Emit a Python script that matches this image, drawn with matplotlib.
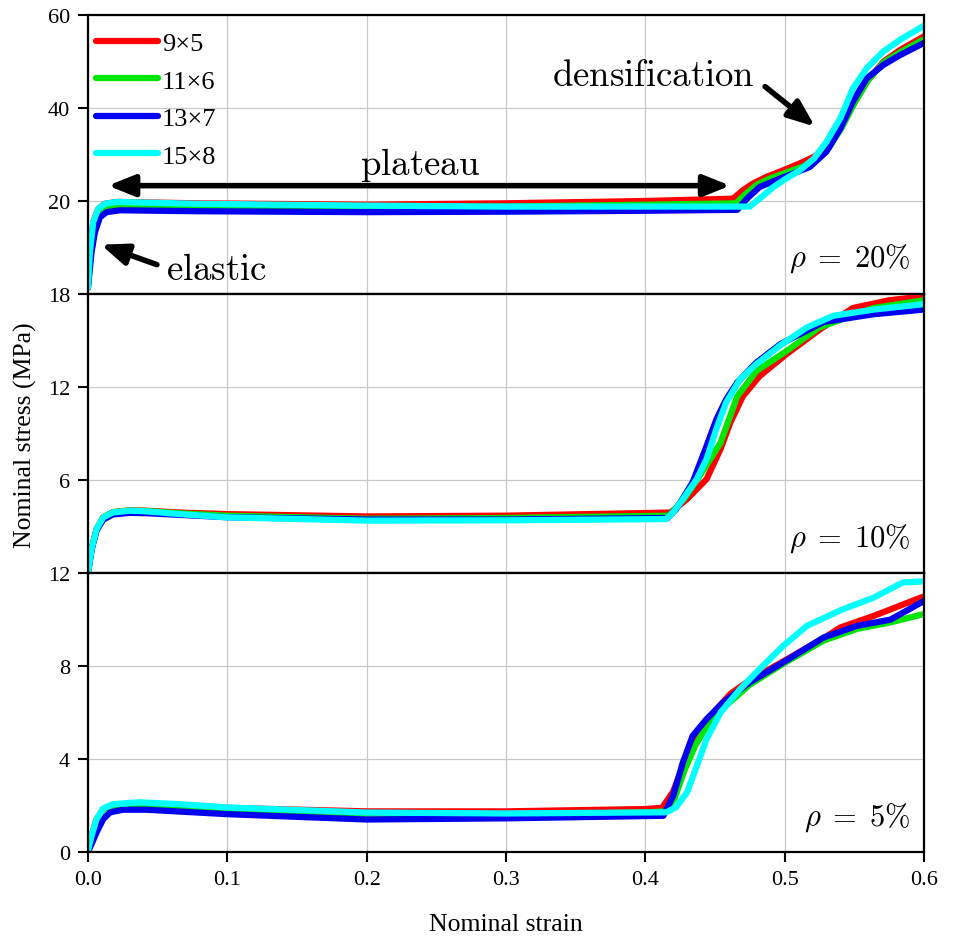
import matplotlib
matplotlib.use('Agg')
import matplotlib.pyplot as plt

plt.rcParams['font.family'] = ['Liberation Serif', 'DejaVu Serif']
plt.rcParams['mathtext.fontset'] = 'cm'

labels = ['9×5', '11×6', '13×7', '15×8']
colors = ['#ff0000', '#00e600', '#0000f0', '#00ffff']

# rho = 20 %
strain_20 = [
    [0, 0.0014, 0.0038, 0.0074, 0.012, 0.021, 0.078, 0.2, 0.3, 0.4, 0.463, 0.470, 0.477,
     0.487, 0.499, 0.511, 0.521, 0.530, 0.540, 0.549, 0.559, 0.571, 0.583, 0.6],
    [0, 0.002, 0.0045, 0.008, 0.013, 0.022, 0.078, 0.2, 0.3, 0.4, 0.465, 0.472, 0.480,
     0.490, 0.502, 0.514, 0.524, 0.532, 0.541, 0.550, 0.560, 0.571, 0.583, 0.6],
    [0, 0.0026, 0.005, 0.0086, 0.0134, 0.023, 0.078, 0.2, 0.3, 0.4, 0.466, 0.473, 0.482,
     0.494, 0.506, 0.518, 0.530, 0.540, 0.549, 0.559, 0.571, 0.583, 0.6],
    [0, 0.0014, 0.0038, 0.0074, 0.012, 0.021, 0.078, 0.2, 0.3, 0.4, 0.475, 0.482, 0.492,
     0.501, 0.511, 0.521, 0.530, 0.540, 0.549, 0.559, 0.571, 0.583, 0.6],
]
stress_20 = [
    [1.4, 9.0, 15.5, 18.3, 19.4, 19.8, 19.5, 19.2, 19.5, 20.0, 20.5, 22.3, 23.7,
     25.2, 26.6, 28.1, 29.5, 31.3, 35.6, 40.6, 45.7, 50.0, 52.5, 55.4],
    [1.4, 9.0, 14.5, 17.5, 18.6, 18.9, 18.8, 18.6, 18.8, 19.2, 19.5, 21.5, 23.5,
     24.9, 26.2, 27.5, 29.5, 31.5, 35.8, 41.0, 46.0, 49.8, 52.0, 54.8],
    [1.4, 9.0, 13.3, 16.5, 17.6, 18.0, 17.8, 17.6, 17.7, 17.9, 18.1, 20.5, 23.0,
     24.5, 25.9, 27.3, 30.6, 35.6, 41.4, 46.4, 49.3, 51.4, 54.0],
    [1.4, 9.0, 15.5, 18.3, 19.4, 19.8, 19.4, 19.0, 18.8, 18.8, 18.8, 20.5, 23.0,
     24.8, 26.6, 29.1, 32.7, 37.8, 44.2, 48.6, 52.2, 54.7, 57.7],
]

# rho = 10 %
strain_10 = [
    [0, 0.0026, 0.0062, 0.011, 0.018, 0.03, 0.042, 0.066, 0.1, 0.2, 0.3, 0.418, 0.430,
     0.444, 0.454, 0.461, 0.470, 0.482, 0.501, 0.525, 0.549, 0.575, 0.6],
    [0, 0.0026, 0.0062, 0.011, 0.018, 0.03, 0.042, 0.066, 0.1, 0.2, 0.3, 0.417, 0.428,
     0.440, 0.454, 0.466, 0.480, 0.501, 0.525, 0.564, 0.6],
    [0, 0.0026, 0.0062, 0.011, 0.018, 0.03, 0.042, 0.066, 0.1, 0.2, 0.3, 0.416, 0.422,
     0.434, 0.444, 0.451, 0.458, 0.466, 0.480, 0.497, 0.528, 0.564, 0.6],
    [0, 0.0026, 0.0062, 0.011, 0.018, 0.03, 0.042, 0.066, 0.1, 0.2, 0.3, 0.415, 0.420,
     0.427, 0.437, 0.444, 0.451, 0.458, 0.468, 0.480, 0.497, 0.516, 0.535, 0.564, 0.6],
]
stress_10 = [
    [0, 1.55, 2.84, 3.6, 3.93, 4.05, 4.02, 3.9, 3.8, 3.65, 3.7, 3.9, 4.77,
     6.06, 8.0, 9.7, 11.4, 12.7, 14.1, 15.7, 17.1, 17.6, 17.85],
    [0, 1.55, 2.84, 3.6, 3.92, 4.03, 4.0, 3.85, 3.7, 3.5, 3.55, 3.7, 4.8,
     6.4, 8.4, 11.4, 13.05, 14.3, 15.85, 17.1, 17.6],
    [0, 1.5, 2.75, 3.45, 3.78, 3.88, 3.86, 3.75, 3.6, 3.45, 3.45, 3.55, 4.1,
     5.85, 8.2, 9.9, 11.2, 12.3, 13.6, 14.77, 16.2, 16.7, 17.0],
    [0, 1.55, 2.84, 3.59, 3.91, 4.02, 3.98, 3.8, 3.59, 3.38, 3.4, 3.48, 3.91,
     4.77, 6.06, 7.35, 9.29, 11.0, 12.5, 13.5, 14.7, 15.85, 16.6, 17.0, 17.35],
]

# rho = 5 %
strain_5 = [
    [0, 0.0026, 0.0062, 0.011, 0.018, 0.037, 0.066, 0.1, 0.2, 0.3, 0.4, 0.412, 0.420,
     0.427, 0.434, 0.442, 0.449, 0.461, 0.475, 0.499, 0.528, 0.540, 0.564, 0.6],
    [0, 0.0026, 0.0062, 0.011, 0.018, 0.037, 0.066, 0.1, 0.2, 0.3, 0.4, 0.414, 0.421,
     0.428, 0.436, 0.444, 0.456, 0.475, 0.499, 0.528, 0.552, 0.576, 0.6],
    [0, 0.0026, 0.0062, 0.011, 0.016, 0.025, 0.042, 0.1, 0.2, 0.3, 0.413, 0.420, 0.427,
     0.434, 0.444, 0.456, 0.475, 0.499, 0.528, 0.552, 0.576, 0.6],
    [0, 0.0026, 0.0062, 0.011, 0.018, 0.037, 0.066, 0.1, 0.2, 0.3, 0.415, 0.422, 0.430,
     0.437, 0.444, 0.454, 0.468, 0.482, 0.499, 0.516, 0.540, 0.564, 0.585, 0.6],
]
stress_5 = [
    [0, 0.7, 1.4, 1.85, 2.03, 2.1, 2.02, 1.9, 1.75, 1.75, 1.85, 1.9, 2.6,
     3.7, 4.8, 5.5, 6.0, 6.8, 7.4, 8.2, 9.2, 9.66, 10.16, 11.0],
    [0, 0.7, 1.4, 1.85, 2.0, 2.05, 1.98, 1.85, 1.65, 1.62, 1.7, 1.75, 2.3,
     3.5, 4.6, 5.4, 6.2, 7.2, 8.1, 9.1, 9.6, 9.88, 10.24],
    [0, 0.35, 0.85, 1.42, 1.71, 1.82, 1.82, 1.63, 1.4, 1.45, 1.56, 2.42, 3.86,
     5.0, 5.72, 6.44, 7.3, 8.16, 9.23, 9.73, 10.0, 10.8],
    [0.06, 0.7, 1.42, 1.88, 2.06, 2.14, 2.06, 1.92, 1.7, 1.66, 1.71, 1.92, 2.57,
     3.71, 4.86, 6.0, 7.01, 7.87, 8.87, 9.73, 10.4, 10.95, 11.6, 11.64],
]

panels = [
    (strain_20, stress_20, [0, 20, 40, 60], r'$\rho\;=\;20\%$'),
    (strain_10, stress_10, [0, 6, 12, 18], r'$\rho\;=\;10\%$'),
    (strain_5, stress_5, [0, 4, 8, 12], r'$\rho\;=\;5\%$'),
]
x_ticks = [0.0, 0.1, 0.2, 0.3, 0.4, 0.5, 0.6]

fig = plt.figure(figsize=(9.54, 9.37), dpi=100)
left, width = 0.0922, 0.8763
bottoms = [0.6852, 0.3874, 0.0896]
height = 0.2977

axes = []
for i, (xs, ys, yt, tag) in enumerate(panels):
    ax = fig.add_axes([left, bottoms[i], width, height])
    for x, y, c, lab in zip(xs, ys, colors, labels):
        ax.plot(x, y, color=c, lw=4.5, label=lab,
                solid_joinstyle='round', solid_capstyle='round')
    ax.set_xlim(0, 0.6)
    ax.set_ylim(yt[0], yt[-1])
    ax.set_xticks(x_ticks)
    ax.set_yticks(yt)
    # the zero label sits under the next panel's top label, so only the bottom panel shows it
    if i < 2:
        ax.set_yticklabels([''] + [str(v) for v in yt[1:]])
        ax.tick_params(axis='x', length=0, labelbottom=False)
    else:
        ax.set_yticklabels([str(v) for v in yt])
        ax.set_xticklabels(['%.1f' % v for v in x_ticks])
    ax.grid(True, color='#c8c8c8', lw=0.9)
    ax.set_axisbelow(True)
    for s in ax.spines.values():
        s.set_linewidth(1.6)
    ax.tick_params(direction='out', length=7, width=1.5, labelsize=16, pad=6)
    ax.text(0.984, 0.1, tag, transform=ax.transAxes, ha='right', va='baseline', fontsize=22)
    axes.append(ax)

ax_top = axes[0]
ax_top.legend(loc='upper left', bbox_to_anchor=(0.0096, 0.94), frameon=False, fontsize=19,
              handlelength=2.35, handletextpad=0.15, labelspacing=0.53,
              borderaxespad=0, borderpad=0)

# deformation stages
head = dict(color='k', lw=4, mutation_scale=40, shrinkA=0, shrinkB=0)
ax_top.annotate('', xy=(0.0143, 23.3), xytext=(0.461, 23.3),
                arrowprops=dict(arrowstyle='<|-|>,head_length=0.4,head_width=0.16', **head))
ax_top.text(0.238, 28.0, r'$\mathrm{plateau}$', ha='center', va='center', fontsize=26.5)
ax_top.annotate('', xy=(0.5218, 36.0), xytext=(0.486, 44.6),
                arrowprops=dict(arrowstyle='-|>,head_length=0.4,head_width=0.16', **head))
ax_top.text(0.406, 47.0, r'$\mathrm{densification}$', ha='center', va='center', fontsize=26.5)
ax_top.annotate('', xy=(0.0093, 10.6), xytext=(0.0495, 6.3),
                arrowprops=dict(arrowstyle='-|>,head_length=0.4,head_width=0.16', **head))
ax_top.text(0.092, 5.2, r'$\mathrm{elastic}$', ha='center', va='center', fontsize=26.5)

fig.text(0.027, 0.536, 'Nominal stress (MPa)', rotation=90, ha='center', va='center', fontsize=18.5)
fig.text(0.5305, 0.013, 'Nominal strain', ha='center', va='center', fontsize=18.5)

fig.savefig('out.png', dpi=100)
